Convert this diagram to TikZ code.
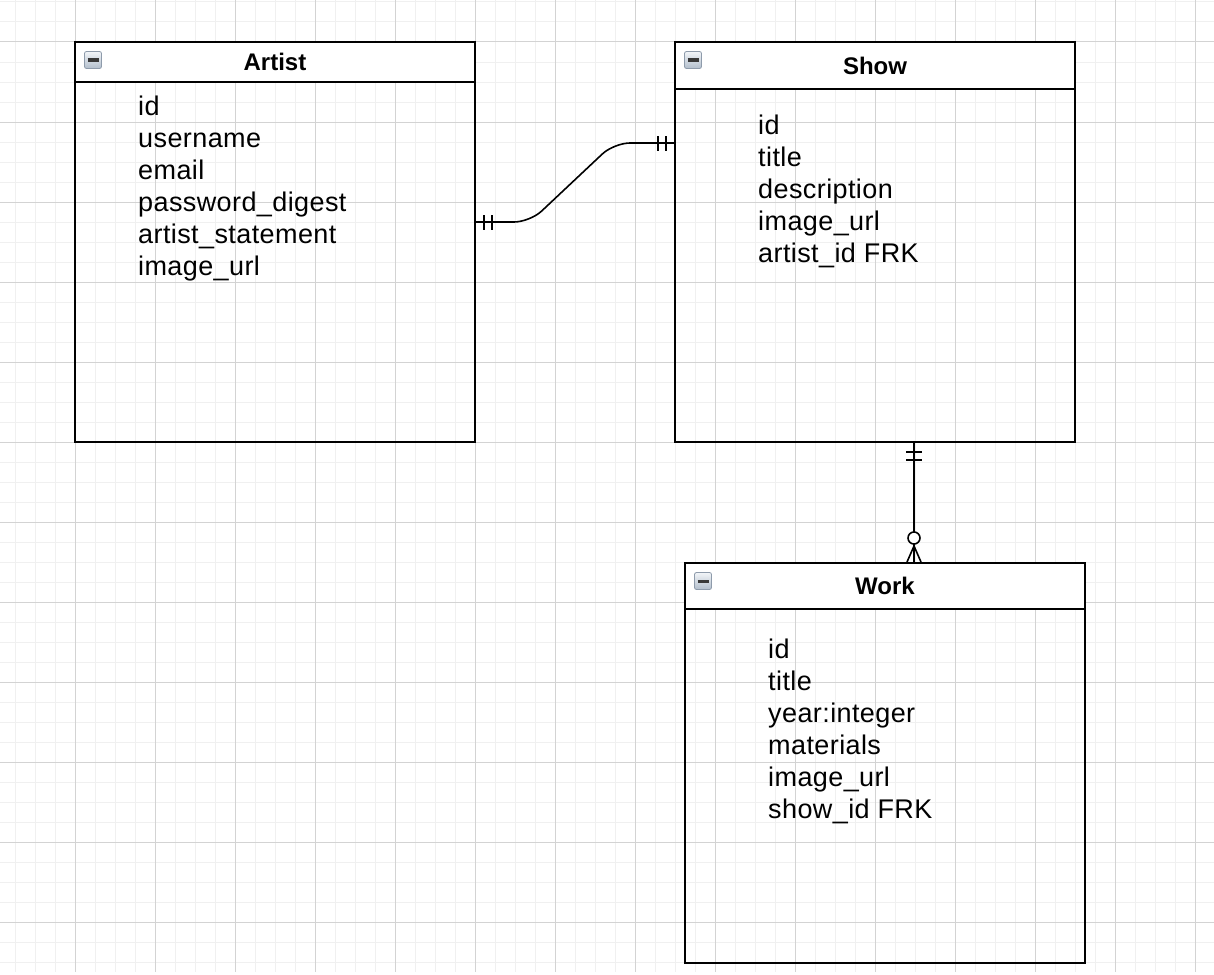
\documentclass[tikz,border=0pt]{standalone}
\usepackage{fontspec}
\setmainfont{Liberation Sans}
\newfontfamily\erfont[LetterSpace=1.5]{Liberation Sans}
\newfontfamily\ertitlefont{Liberation Sans}
\usepackage{xcolor}
\usetikzlibrary{positioning}
\definecolor{gridminor}{HTML}{F0F0F0}
\definecolor{gridmajor}{HTML}{D3D3D3}
\definecolor{iconedge}{HTML}{8E9BAB}
\definecolor{icontop}{HTML}{F2F5F8}
\definecolor{iconbot}{HTML}{B2BECC}

\begin{document}
\begin{tikzpicture}[x=1pt, y=-1pt,
  entity/.style={draw, line width=2pt, minimum width=400pt, minimum height=400pt, inner sep=0pt},
  ertitle/.style={font=\ertitlefont\fontsize{24}{28}\selectfont\bfseries, inner sep=0pt},
  field/.style={font=\erfont\fontsize{27}{32}\selectfont, anchor=base west, inner sep=0pt},
  minbox/.style={draw=iconedge, line width=0.8pt, rounded corners=2pt, minimum size=17pt, inner sep=0pt,
    top color=icontop, bottom color=iconbot,
    path picture={\draw[line width=3pt, black!78] ([xshift=-5.5pt]path picture bounding box.center) -- ([xshift=5.5pt]path picture bounding box.center);}},
  conn/.style={line width=1.6pt},
  tickmark/.style={line width=2pt}]
\useasboundingbox (0,0) rectangle (1214,974);
% background grid: minor every 20, major every 80
\foreach \x in {15,35,...,1195} \draw[gridminor, line width=1pt] (\x,0) -- (\x,972);
\foreach \y in {2,22,...,962} \draw[gridminor, line width=1pt] (0,\y) -- (1214,\y);
\foreach \x in {75,155,...,1195} \draw[gridmajor, line width=1pt] (\x,0) -- (\x,972);
\foreach \y in {42,122,...,922} \draw[gridmajor, line width=1pt] (0,\y) -- (1214,\y);
% table: name, left, top, header height, title, first field x/baseline, fields
\newcommand{\erbox}[8]{%
  \fill[white] (#2,#3) rectangle (#2+400,#3+#4);
  \node[entity] (#1) at (#2+200,#3+200) {};
  \draw[line width=2pt] (#2,#3+#4) -- (#2+400,#3+#4);
  \node[ertitle] (#1-title) at (#2+200,#3+#4/2) {#5};
  \node[minbox] (#1-icon) at (#2+18,#3+18) {};
  \foreach \f [count=\i from 0] in {#8}
    \node[field] (#1-f\i) at (#2+#6,#3+#7+32*\i) {\f};
}
\erbox{artist}{75}{42}{40}{Artist}{63}{73}{id, username, email, password\_digest, artist\_statement, image\_url}
\erbox{show}{675}{42}{47}{Show}{83}{92}{id, title, description, image\_url, artist\_id FRK}
\erbox{work}{685}{563}{46}{Work}{83}{95}{id, title, year:integer, materials, image\_url, show\_id FRK}
% artist -- show (one to one)
\draw[conn, rounded corners=16pt] ([yshift=20pt]artist.east) -- ++(54,0) -- ([xshift=-60pt,yshift=99pt]show.west) -- ([yshift=99pt]show.west);
\foreach \d in {8,16}
  {\draw[tickmark] ([xshift=\d pt,yshift=12.5pt]artist.east) -- ([xshift=\d pt,yshift=27.5pt]artist.east);
   \draw[tickmark] ([xshift=-\d pt,yshift=91.5pt]show.west) -- ([xshift=-\d pt,yshift=106.5pt]show.west);}
% show -- work (one to zero or many)
\draw[conn] ([xshift=39pt]show.south) -- ([xshift=29pt]work.north);
\foreach \d in {9,17}
  \draw[tickmark] ([xshift=31pt,yshift=-\d pt]show.south) -- ([xshift=47pt,yshift=-\d pt]show.south);
\draw[conn] ([xshift=22pt]work.north) -- ([xshift=29pt,yshift=16pt]work.north) -- ([xshift=36pt]work.north);
\draw[conn, fill=white] ([xshift=29pt,yshift=24pt]work.north) circle (6pt);
\end{tikzpicture}
\end{document}
